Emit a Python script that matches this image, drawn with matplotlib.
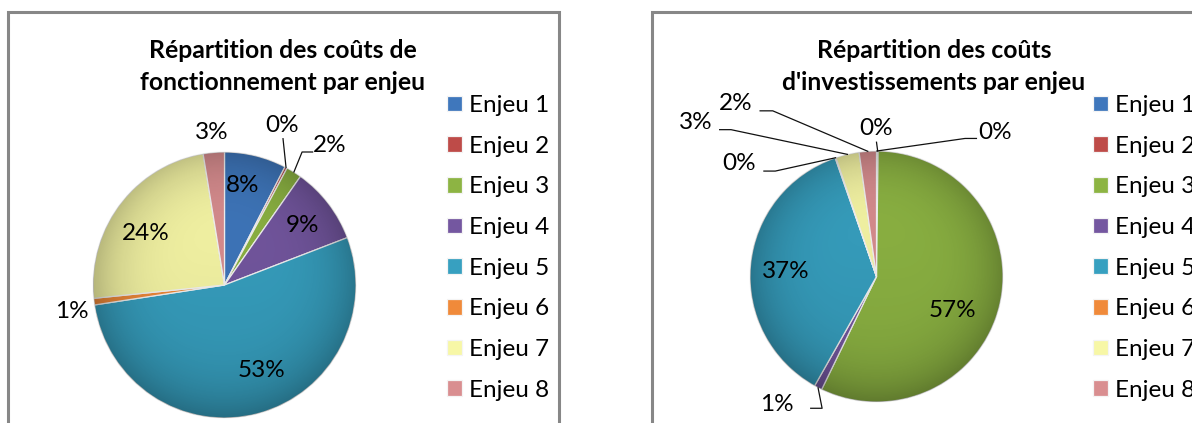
import matplotlib
matplotlib.use("Agg")
import matplotlib.pyplot as plt
import numpy as np
from matplotlib.patches import Rectangle, Circle

plt.rcParams["font.family"] = ["Lato", "DejaVu Sans"]

# data
enjeux = ["Enjeu 1", "Enjeu 2", "Enjeu 3", "Enjeu 4", "Enjeu 5", "Enjeu 6", "Enjeu 7", "Enjeu 8"]
fonctionnement = [7.6, 0.3, 1.9, 9.4, 53.4, 0.8, 24.0, 2.6]
investissement = [0.1, 0.1, 57.0, 1.0, 36.6, 0.1, 3.0, 2.2]
titre_fonct = ["Répartition des coûts de", "fonctionnement par enjeu"]
titre_invest = ["Répartition des coûts", "d'investissements par enjeu"]

colors = ["#3F77BC", "#BE4B48", "#8DB443", "#7457A0", "#37A0C0", "#F08A3A", "#F7F7A6", "#D98E90"]

W, H = 1192, 423
fig = plt.figure(figsize=(W / 100, H / 100), dpi=100)


def px_axes(cx, cy, rx, ry):
    # axes exactly covering the pie ellipse, given in pixels from top-left
    return fig.add_axes([(cx - rx) / W, (H - cy - ry) / H, 2 * rx / W, 2 * ry / H])


def fx(x):
    return x / W


def fy(y):
    return (H - y) / H


# chart frames
fig.patches.append(Rectangle((fx(8), -0.1), fx(551), fy(12) + 0.1, transform=fig.transFigure,
                             fill=False, edgecolor="#878787", linewidth=2.2))
fig.patches.append(Rectangle((fx(652), -0.1), 0.5, fy(12) + 0.1, transform=fig.transFigure,
                             fill=False, edgecolor="#878787", linewidth=2.2))


def shade(ax):
    # soft 3D-ish look: darker towards the rim and the bottom
    g = np.linspace(-1, 1, 300)
    xx, yy = np.meshgrid(g, g)
    r = np.sqrt(xx ** 2 + yy ** 2)
    alpha = np.clip(0.22 * r ** 4 + 0.10 * (0.5 - yy / 2), 0, 0.35)
    img = np.zeros((300, 300, 4))
    img[..., 3] = alpha
    im = ax.imshow(img, extent=(-1, 1, -1, 1), origin="lower", zorder=3, interpolation="bilinear")
    im.set_clip_path(Circle((0, 0), 1, transform=ax.transData))


def draw_pie(ax, values, label_pos, leaders):
    wedges, _ = ax.pie(values, colors=colors, startangle=90, counterclock=False, radius=1,
                       wedgeprops=dict(edgecolor="#f4f4f4", linewidth=0.9))
    shade(ax)
    ax.set_aspect("auto")
    ax.set_xlim(-1, 1)
    ax.set_ylim(-1, 1)
    total = sum(values)
    for v, (x, y) in zip(values, label_pos):
        ax.text(x, y, f"{v / total * 100:.0f}%", ha="center", va="center", fontsize=17.5,
                color="black", zorder=5)
    # leader lines: from a stub next to the label to the rim at the wedge middle
    for i, stub in leaders.items():
        w = wedges[i]
        a = np.deg2rad((w.theta1 + w.theta2) / 2)
        rim = (np.cos(a), np.sin(a))
        xs = [p[0] for p in stub] + [rim[0]]
        ys = [p[1] for p in stub] + [rim[1]]
        ax.plot(xs, ys, color="#111111", linewidth=0.9, clip_on=False, zorder=4)
    return wedges


# left pie: centre (224.5, 285) px
ax1 = px_axes(224.5, 285, 131.5, 133)
pos1 = [(0.14, 0.75), (0.44, 1.20), (0.80, 1.05), (0.59, 0.45),
        (0.285, -0.64), (-1.16, -0.20), (-0.60, 0.39), (-0.10, 1.15)]
lead1 = {1: [(0.445, 1.10)], 2: [(0.67, 1.00), (0.59, 1.00)]}
w1 = draw_pie(ax1, fonctionnement, pos1, lead1)

# right pie: centre (876.5, 276.5) px
ax2 = px_axes(876.5, 276.5, 126.5, 125.5)
pos2 = [(0.94, 1.15), (0.0, 1.18), (0.60, -0.27), (-0.79, -1.02),
        (-0.72, 0.04), (-1.09, 0.90), (-1.43, 1.23), (-1.11, 1.38)]
lead2 = {0: [(0.79, 1.10), (0.70, 1.10)],
         1: [(0.0, 1.07)],
         3: [(-0.52, -1.05), (-0.43, -1.05)],
         5: [(-0.89, 0.84), (-0.80, 0.84)],
         6: [(-1.24, 1.17), (-1.15, 1.17)],
         7: [(-0.92, 1.32), (-0.82, 1.32)]}
w2 = draw_pie(ax2, investissement, pos2, lead2)

# titles
for (cx, lines) in [(283, titre_fonct), (934, titre_invest)]:
    for y, t in zip([50, 82], lines):
        fig.text(fx(cx), fy(y), t, ha="center", va="center", fontsize=17.8, fontweight="bold")

# legends
for x, wedges in [(447, w1), (1093, w2)]:
    fig.legend(wedges, enjeux, loc="upper left", bbox_to_anchor=(fx(x), fy(95)),
               frameon=False, fontsize=17.5, handlelength=0.62, handleheight=0.62,
               handletextpad=0.3, labelspacing=0.81, borderpad=0, borderaxespad=0)

fig.savefig("out.png", dpi=100)
